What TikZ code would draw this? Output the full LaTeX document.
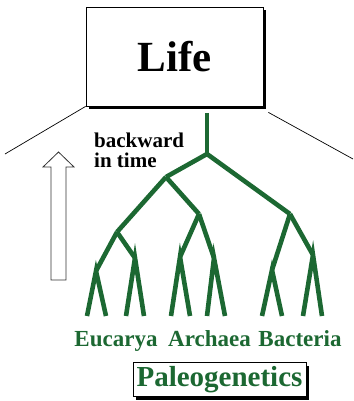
\documentclass[tikz,border=0pt]{standalone}
\usepackage{fontspec}
\setmainfont{Liberation Serif}
\usetikzlibrary{calc, shadows}
\definecolor{treegreen}{RGB}{28,104,50}

\begin{document}
\begin{tikzpicture}[x=1pt, y=-1pt,
    branch/.style={line width=4.6pt, treegreen, line cap=butt, line join=miter},
    taxon/.style={anchor=base, text=treegreen, font=\fontsize{23}{26}\selectfont\bfseries, inner sep=0pt},
    boxed/.style={draw, line width=0.8pt, fill=white,
      drop shadow={shadow xshift=3.2pt, shadow yshift=-3.2pt, fill=black, opacity=1}}]
    \useasboundingbox (0,0) rectangle (353,401);

    % Life box
    \node[boxed, minimum width=177pt, minimum height=99pt, inner sep=0pt,
      font=\fontsize{43}{48}\selectfont\bfseries] (life) at (174.5,56.5) {Life};
    \coordinate (leftend) at (5,154);
    \coordinate (rightend) at (353,159);
    \draw[line width=0.7pt] (life.south west) -- (leftend);
    \draw[line width=0.7pt] ($(life.south east)+(5,6)$) -- (rightend);

    % backward in time
    \node[anchor=base west, align=left, inner sep=0pt,
      font=\fontsize{21}{20}\selectfont\bfseries] (back) at (94,167) {backward\\in time};
    \draw[line width=0.8pt, black!80, fill=white]
      (51,280) -- (51,167) -- (43,167) -- (58.5,152) -- (74,167) -- (66,167) -- (66,280) -- cycle;

    % tree
    \coordinate (top) at (207,113);
    \coordinate (root) at (207,154);
    \coordinate (ea) at (166,177);
    \coordinate (bac) at (290,214);
    \coordinate (euc) at (117,232);
    \coordinate (arc) at (199,214);
    \coordinate (euc1) at (96,271);
    \coordinate (euc2) at (135,258);
    \coordinate (arc1) at (180,257);
    \coordinate (arc2) at (214,258);
    \coordinate (bac1) at (272,270);
    \coordinate (bac2) at (313,255);
    \draw[branch] (top) -- (root);
    \draw[branch] (root) -- (ea);
    \draw[branch] (root) -- (bac);
    \draw[branch] (ea) -- (euc);
    \draw[branch] (ea) -- (arc);
    \draw[branch] (euc) -- (euc1);
    \draw[branch] (euc) -- (euc2);
    \draw[branch] (arc) -- (arc1);
    \draw[branch] (arc) -- (arc2);
    \draw[branch] (bac) -- (bac1);
    \draw[branch] (bac) -- (bac2);
    \foreach \n/\a/\b in {euc1/87/106, euc2/126/144, arc1/171/190,
                          arc2/207/225, bac1/262/282, bac2/303/322} {
      \draw[branch] (\a,316) -- (\n) -- (\b,316);
    }

    % labels
    \node[taxon] (eucarya) at (116,346) {Eucarya};
    \node[taxon] (archaea) at (209.5,346) {Archaea};
    \node[taxon] (bacteria) at (300,346) {Bacteria};

    % Paleogenetics box
    \node[boxed, minimum width=173pt, minimum height=34pt, inner sep=0pt, text=treegreen,
      font=\fontsize{29}{30}\selectfont\bfseries] (paleo) at (219.5,379.5) {Paleogenetics};
\end{tikzpicture}
\end{document}
